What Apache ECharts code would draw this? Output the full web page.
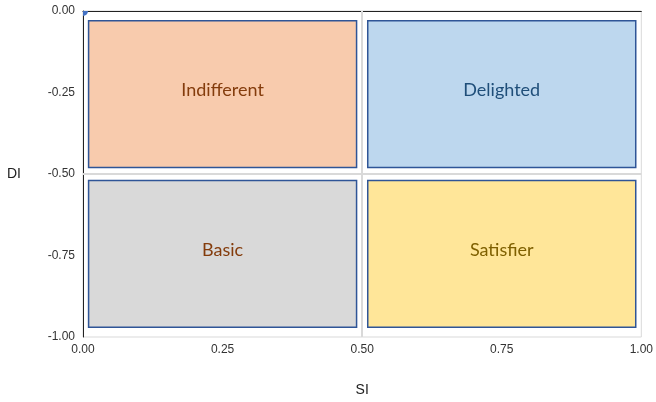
<!DOCTYPE html>
<html>
<head>
<meta charset="utf-8">
<script src="https://cdn.jsdelivr.net/npm/echarts@6/dist/echarts.min.js"></script>
<style>html,body{margin:0;padding:0;background:#fff}#c{width:656px;height:402px}</style>
</head>
<body>
<div id="c"></div>
<script>
var quadrantNames = ['Indifferent', 'Delighted', 'Basic', 'Satisfier'];
var siStart = [0.01, 0.51, 0.01, 0.51];
var siEnd = [0.49, 0.99, 0.49, 0.99];
var diTop = [-0.03, -0.03, -0.52, -0.52];
var diBottom = [-0.48, -0.48, -0.97, -0.97];
var pointSI = [0];
var pointDI = [0];
var xTicks = [0, 0.25, 0.5, 0.75, 1];
var yTicks = [-1, -0.75, -0.5, -0.25, 0];

var fillColors = ['#F8CBAD', '#BDD7EE', '#D9D9D9', '#FFE699'];
var textColors = ['#843C0C', '#1F4E79', '#843C0C', '#7F6000'];

var rectData = quadrantNames.map(function (n, i) {
  return [siStart[i], diTop[i], siEnd[i], diBottom[i], i];
});

var chart = echarts.init(document.getElementById('c'));
chart.setOption({
  animation: false,
  grid: { left: 83, top: 11, right: 12, bottom: 61, show: true, borderColor: '#D9D9D9', borderWidth: 1 },
  xAxis: [{
    type: 'value', min: 0, max: 1, interval: 0.25,
    name: 'SI', nameLocation: 'middle', nameGap: 46,
    nameTextStyle: { fontFamily: 'Liberation Sans', fontSize: 14, color: '#222' },
    axisLine: { show: true, lineStyle: { color: '#D9D9D9', width: 1 } },
    axisTick: { show: false },
    splitLine: { show: false },
    axisLabel: { fontFamily: 'Liberation Sans', fontSize: 12, color: '#333', margin: 7,
      formatter: function (v) { return v.toFixed(2); } }
  }, {
    type: 'value', min: 0, max: 1, position: 'top',
    axisLine: { show: true, onZero: false, lineStyle: { color: '#222', width: 1 } },
    axisTick: { show: false }, axisLabel: { show: false }, splitLine: { show: false }
  }],
  yAxis: {
    type: 'value', min: -1, max: 0, interval: 0.25,
    name: 'DI', nameLocation: 'middle', nameGap: 62, nameRotate: 0,
    nameTextStyle: { fontFamily: 'Liberation Sans', fontSize: 14, color: '#222' },
    axisLine: { show: true, onZero: false, lineStyle: { color: '#222', width: 1 } },
    axisTick: { show: false },
    splitLine: { show: false },
    axisLabel: { fontFamily: 'Liberation Sans', fontSize: 12, color: '#333', margin: 8,
      formatter: function (v) { return v.toFixed(2); } }
  },
  series: [{
    type: 'custom',
    silent: true,
    data: rectData,
    renderItem: function (params, api) {
      var p0 = api.coord([api.value(0), api.value(1)]);
      var p1 = api.coord([api.value(2), api.value(3)]);
      var i = api.value(4);
      return {
        type: 'group',
        children: [{
          type: 'rect',
          shape: { x: p0[0], y: p0[1], width: p1[0] - p0[0], height: p1[1] - p0[1] },
          style: { fill: fillColors[i], stroke: '#2F5597', lineWidth: 1.5 }
        }, {
          type: 'text',
          style: {
            x: (p0[0] + p1[0]) / 2, y: (p0[1] + p1[1]) / 2 - 4,
            text: quadrantNames[i], fill: textColors[i],
            font: '18px Lato', align: 'center', verticalAlign: 'middle'
          }
        }]
      };
    },
    markLine: {
      silent: true, symbol: 'none', label: { show: false },
      lineStyle: { color: '#D9D9D9', width: 2, type: 'solid' },
      data: [{ xAxis: 0.5 }, { yAxis: -0.5 }]
    },
    z: 2
  }, {
    type: 'custom',
    silent: true,
    clip: true,
    data: pointSI.map(function (x, i) { return [x, pointDI[i]]; }),
    renderItem: function (params, api) {
      var p = api.coord([api.value(0), api.value(1)]);
      return {
        type: 'circle',
        shape: { cx: p[0], cy: p[1], r: 5 },
        style: { fill: '#4472C4' }
      };
    },
    z: 1
  }]
});
</script>
</body>
</html>
